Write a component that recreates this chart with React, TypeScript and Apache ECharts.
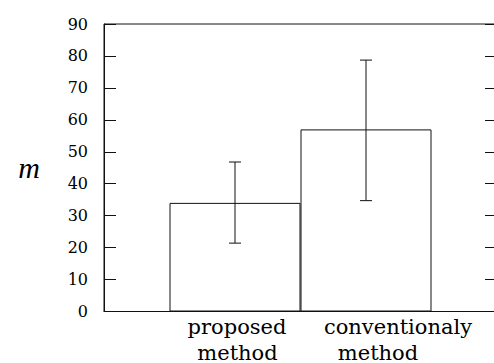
import React, { useEffect, useRef } from "react";
import * as echarts from "echarts";

const categories = ["", "proposed method", "conventionaly method", ""];
const meanValues: (number | string)[] = ["-", 34, 57, "-"];
const errorLow = [21.4, 34.7];
const errorHigh = [46.8, 78.7];
const errorCategoryIndex = [1, 2];
const yTicks = [0, 10, 20, 30, 40, 50, 60, 70, 80, 90];
const yName = "m";

const SERIF = "DejaVu Serif";
const NAME_FONT = "Liberation Serif";
const LINE = "#111";
const LABEL_SIZE = 21;

export default function App() {
  const ref = useRef<HTMLDivElement>(null);
  useEffect(() => {
    if (!ref.current) return;
    const chart = echarts.init(ref.current, undefined, { renderer: "svg" });
    const errData = errorCategoryIndex.map((c, i) => [c, errorLow[i], errorHigh[i]]);
    const yMin = yTicks[0];
    const yMax = yTicks[yTicks.length - 1];
    const yInterval = yTicks[1] - yTicks[0];
    const yAxisBase = {
      type: "value" as const,
      min: yMin,
      max: yMax,
      interval: yInterval,
      splitLine: { show: false },
      axisLine: { show: true, lineStyle: { color: LINE, width: 1 } },
      axisTick: { show: true, inside: true, length: 12, lineStyle: { color: LINE, width: 1 } },
    };
    const richBase = { fontFamily: SERIF, fontSize: LABEL_SIZE, color: "#000", lineHeight: 26 };
    chart.setOption({
      animation: false,
      grid: {
        left: 104,
        right: 3,
        top: 24,
        bottom: 51,
        show: true,
        borderColor: LINE,
        borderWidth: 1,
      },
      xAxis: {
        type: "category",
        data: categories,
        boundaryGap: false,
        axisLine: { show: true, lineStyle: { color: LINE, width: 1 } },
        axisTick: { show: false },
        splitLine: { show: false },
        axisLabel: {
          interval: 0,
          margin: 2,
          fontFamily: SERIF,
          fontSize: LABEL_SIZE,
          formatter: (v: string, idx: number) => {
            if (!v) return "";
            const parts = v.split(" ");
            if (idx === 1) return `{a|${parts[0]}}\n{b|${parts[1]}}`;
            return `{c|${parts[0]}}\n{d|${parts[1]}}`;
          },
          rich: {
            a: { ...richBase, padding: [0, 0, 0, 4] },
            b: { ...richBase, padding: [0, 0, 0, 5] },
            c: { ...richBase, padding: [0, 0, 0, 64] },
            d: { ...richBase, padding: [0, 0, 0, 24] },
          },
        },
      },
      yAxis: [
        {
          ...yAxisBase,
          position: "left",
          name: yName,
          nameLocation: "middle",
          nameRotate: 0,
          nameGap: 64,
          nameTextStyle: { fontFamily: NAME_FONT, fontStyle: "italic", fontSize: 30, color: "#000" },
          axisLabel: { show: true, margin: 16, fontFamily: SERIF, fontSize: 16, color: "#000" },
        },
        {
          ...yAxisBase,
          position: "right",
          axisLabel: { show: false },
        },
      ],
      series: [
        {
          type: "bar",
          data: meanValues,
          barCategoryGap: "0%",
          itemStyle: { color: "#fff", borderColor: LINE, borderWidth: 1 },
          silent: true,
        },
        {
          type: "custom",
          data: errData,
          encode: { x: 0, y: [1, 2] },
          z: 3,
          renderItem: (params: any, api: any) => {
            const x = api.value(0);
            const lo = api.coord([x, api.value(1)]);
            const hi = api.coord([x, api.value(2)]);
            const half = 6;
            const style = { stroke: LINE, lineWidth: 1, fill: "none" };
            return {
              type: "group",
              children: [
                { type: "line", shape: { x1: hi[0], y1: hi[1], x2: lo[0], y2: lo[1] }, style },
                { type: "line", shape: { x1: hi[0] - half, y1: hi[1], x2: hi[0] + half, y2: hi[1] }, style },
                { type: "line", shape: { x1: lo[0] - half, y1: lo[1], x2: lo[0] + half, y2: lo[1] }, style },
              ],
            };
          },
        },
      ],
    });
    return () => chart.dispose();
  }, []);
  return (
    <div style={{ position: "fixed", left: 0, top: 0, width: 494, height: 363, overflow: "hidden", background: "#fff" }}>
      <div ref={ref} style={{ position: "absolute", left: 0, top: 0, width: 500, height: 363 }} />
    </div>
  );
}
